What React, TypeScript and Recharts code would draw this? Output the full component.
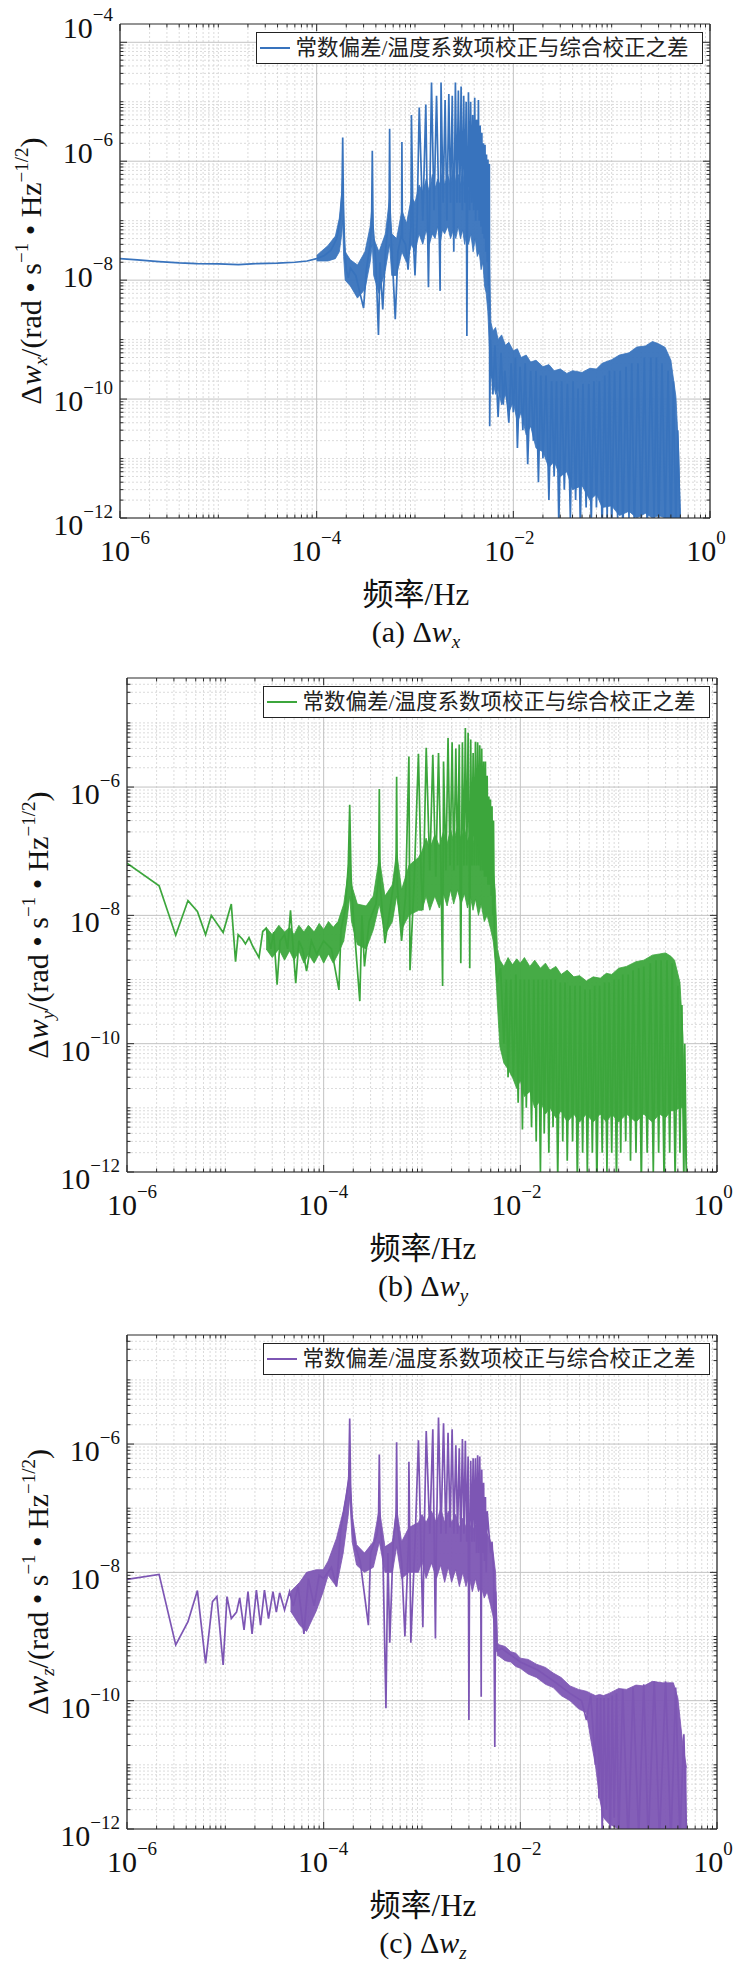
import React from 'react';
import { ComposedChart, Line, Area, XAxis, YAxis, CartesianGrid, ReferenceLine } from 'recharts';

const SERIF = '"Liberation Serif", "Times New Roman", serif';
const CJK = '"Liberation Serif", "Noto Sans CJK SC", serif';
const AXIS = '#2b2b2b';

const legendText = '常数偏差/温度系数项校正与综合校正之差';

const xMajorTicks = [1e-6, 1e-4, 1e-2, 1];
const yMajorTicksA = [1e-12, 1e-10, 1e-8, 1e-6, 1e-4];
const yMajorTicksBC = [1e-12, 1e-10, 1e-8, 1e-6];

// (a) Δw_x — [frequency Hz, amplitude]
const dwxLine: [number, number][] = [
  [1e-6, 2.3e-8], [1.5e-6, 2.2e-8], [2.5e-6, 2.05e-8], [4e-6, 1.95e-8], [6e-6, 1.9e-8], [1e-5, 1.88e-8],
  [1.6e-5, 1.83e-8], [2.5e-5, 1.9e-8], [4e-5, 1.93e-8], [6e-5, 2.0e-8], [8e-5, 2.1e-8], [1e-4, 2.3e-8],
  [1.2e-4, 2.6e-8], [1.4e-4, 3.2e-8], [1.6e-4, 5e-8], [1.75e-4, 1.2e-7], [1.81e-4, 3e-7], [1.84e-4, 2.5e-6],
  [1.87e-4, 2e-7], [1.92e-4, 4e-8], [2.0e-4, 1.5e-8], [2.1e-4, 1.1e-8], [2.2e-4, 1.6e-8], [2.5e-4, 1.2e-8],
  [2.7e-4, 7e-9], [3.0e-4, 3.4e-9], [3.2e-4, 1.5e-8], [3.5e-4, 4e-8], [3.62e-4, 1e-7], [3.68e-4, 1.5e-6],
  [3.74e-4, 8e-8], [4.0e-4, 2e-8], [4.25e-4, 1.2e-9], [4.4e-4, 2e-8], [4.7e-4, 3.2e-9], [5.0e-4, 3e-8],
  [5.45e-4, 1.2e-7], [5.52e-4, 3.5e-6], [5.6e-4, 1e-7], [5.9e-4, 2e-8], [6.3e-4, 2.2e-9], [6.7e-4, 3e-8],
  [7.3e-4, 6e-8], [7.36e-4, 2.1e-6], [7.45e-4, 5e-8], [8.0e-4, 4e-8], [8.5e-4, 1.5e-8], [9.1e-4, 8e-8],
  [9.2e-4, 6e-6], [9.6e-4, 5e-8], [1.0e-3, 1.2e-8], [1.05e-3, 1e-7], [1.104e-3, 8e-6], [1.2e-3, 1e-7],
  [1.288e-3, 9e-6], [1.37e-3, 7.6e-9], [1.472e-3, 2.1e-5], [1.56e-3, 1.5e-7], [1.656e-3, 1.26e-5],
  [1.75e-3, 1.5e-7], [1.8e-3, 6.6e-9], [1.84e-3, 2.1e-5], [1.93e-3, 2e-7], [2.024e-3, 1.07e-5],
  [2.11e-3, 1e-7], [2.208e-3, 1.35e-5], [2.3e-3, 2e-7], [2.392e-3, 1.26e-5], [2.48e-3, 3e-8],
  [2.576e-3, 2.1e-5], [2.67e-3, 2e-7], [2.76e-3, 1.55e-5], [2.85e-3, 2e-7], [2.944e-3, 1.8e-5],
  [3.03e-3, 1.5e-7], [3.128e-3, 1.26e-5], [3.22e-3, 2e-7], [3.312e-3, 1e-5], [3.37e-3, 1.15e-9],
  [3.42e-3, 2e-7], [3.496e-3, 1.45e-5], [3.59e-3, 1.5e-7], [3.68e-3, 1e-5], [3.77e-3, 2e-7],
  [3.864e-3, 6e-6], [3.95e-3, 1.5e-7], [4.048e-3, 1.17e-5], [4.14e-3, 1e-7], [4.232e-3, 5e-6],
  [4.32e-3, 1.5e-7], [4.416e-3, 1.07e-5], [4.5e-3, 1e-7], [4.6e-3, 4e-6], [4.69e-3, 8e-8],
  [4.784e-3, 3e-6], [4.88e-3, 6e-8], [4.968e-3, 2e-6], [5.06e-3, 5e-8], [5.152e-3, 1.9e-6],
  [5.25e-3, 3e-8], [5.336e-3, 1.3e-6], [5.43e-3, 2e-8], [5.52e-3, 1.07e-6], [5.6e-3, 8e-9],
  [5.704e-3, 9e-7], [5.75e-3, 3.5e-11], [5.85e-3, 1e-9], [6.2e-3, 1.2e-10], [6.5e-3, 8e-10], [7e-3, 5e-11],
  [7.5e-3, 6e-10], [7.9e-3, 8e-11], [8.2e-3, 3e-10], [9e-3, 4e-11], [9.5e-3, 4e-10], [1e-2, 6e-11],
  [1.05e-2, 5e-10], [1.1e-2, 1.5e-11], [1.17e-2, 3.5e-10], [1.25e-2, 3e-11], [1.32e-2, 4e-10], [1.4e-2, 8e-12],
  [1.5e-2, 3e-10], [1.6e-2, 2e-11], [1.7e-2, 3e-10], [1.8e-2, 4e-12], [1.9e-2, 2.5e-10], [2e-2, 1e-11],
  [2.15e-2, 2.5e-10], [2.3e-2, 2e-12], [2.45e-2, 2e-10], [2.6e-2, 5e-12], [2.75e-2, 2e-10], [2.9e-2, 8e-13],
  [3.1e-2, 2e-10], [3.3e-2, 3e-12], [3.55e-2, 1.8e-10], [3.8e-2, 1e-12], [4.05e-2, 2e-10], [4.3e-2, 2e-12],
  [4.55e-2, 1.5e-10], [4.8e-2, 7e-13], [5.1e-2, 1.8e-10], [5.5e-2, 1.5e-12], [5.85e-2, 1.8e-10],
  [6.2e-2, 8e-13], [6.6e-2, 2e-10], [7e-2, 1.5e-12], [7.5e-2, 2e-10], [8e-2, 6e-13], [8.5e-2, 2.5e-10],
  [9e-2, 1e-12], [9.5e-2, 3e-10], [0.1, 6e-13], [0.107, 3e-10], [0.115, 1e-12], [0.122, 3e-10],
  [0.13, 5e-13], [0.14, 3.5e-10], [0.15, 1e-12], [0.16, 4e-10], [0.17, 6e-13], [0.185, 4e-10],
  [0.2, 8e-13], [0.215, 5e-10], [0.23, 5e-13], [0.25, 5e-10], [0.27, 9e-13], [0.285, 5e-10],
  [0.3, 5e-13], [0.325, 4e-10], [0.35, 8e-13], [0.375, 3e-10], [0.4, 5e-13], [0.425, 2e-10],
  [0.45, 6e-13], [0.47, 3e-11], [0.5, 5e-13],
];

// dense part of the spectrum: [frequency, lower edge, upper edge]
const dwxBand: [number, number, number][] = [
  [1.0e-4, 2.1e-8, 2.6e-8], [1.3e-4, 2.1e-8, 3.8e-8], [1.55e-4, 2.3e-8, 5.5e-8], [1.7e-4, 3e-8, 1.1e-7],
  [1.8e-4, 6e-8, 3e-7], [1.84e-4, 1e-7, 6e-7], [1.88e-4, 2.5e-8, 1e-7], [1.95e-4, 1e-8, 3e-8],
  [2.2e-4, 8e-9, 2.2e-8], [2.6e-4, 5e-9, 1.8e-8], [3.1e-4, 7e-9, 3e-8], [3.5e-4, 2e-8, 8e-8],
  [3.68e-4, 4e-8, 2e-7], [3.8e-4, 1.2e-8, 5e-8], [4.3e-4, 6e-9, 3e-8], [5.0e-4, 1.5e-8, 6e-8],
  [5.52e-4, 4e-8, 2.5e-7], [5.8e-4, 1.2e-8, 6e-8], [6.5e-4, 1.2e-8, 5e-8], [7.36e-4, 3e-8, 1.5e-7],
  [8.2e-4, 2e-8, 9e-8], [9.2e-4, 4e-8, 2.5e-7], [1.0e-3, 3e-8, 2e-7], [1.1e-3, 6e-8, 4e-7],
  [1.2e-3, 4e-8, 3e-7], [1.3e-3, 7e-8, 5e-7], [1.4e-3, 4e-8, 3e-7], [1.5e-3, 6e-8, 6e-7],
  [1.6e-3, 5e-8, 3.5e-7], [1.7e-3, 8e-8, 5e-7], [1.8e-3, 4e-8, 4e-7], [1.9e-3, 7e-8, 7e-7],
  [2.0e-3, 6e-8, 4e-7], [2.15e-3, 8e-8, 6e-7], [2.3e-3, 5e-8, 4e-7], [2.45e-3, 7e-8, 8e-7],
  [2.6e-3, 5e-8, 4.5e-7], [2.75e-3, 8e-8, 6e-7], [2.9e-3, 5e-8, 4e-7], [3.05e-3, 7e-8, 7e-7],
  [3.2e-3, 4e-8, 3.5e-7], [3.35e-3, 6e-8, 5e-7], [3.5e-3, 4e-8, 3e-7], [3.7e-3, 6e-8, 5e-7],
  [3.9e-3, 3e-8, 3e-7], [4.1e-3, 5e-8, 4e-7], [4.3e-3, 2.5e-8, 2.5e-7], [4.5e-3, 3e-8, 3e-7],
  [4.7e-3, 1.5e-8, 2e-7], [4.9e-3, 2e-8, 2.5e-7], [5.1e-3, 8e-9, 1.5e-7], [5.3e-3, 6e-9, 1.2e-7],
  [5.5e-3, 3e-9, 6e-8], [5.75e-3, 6e-10, 1.5e-8], [5.9e-3, 2.5e-10, 2e-9], [6.2e-3, 2e-10, 1.4e-9],
  [6.6e-3, 1.2e-10, 1.6e-9], [7e-3, 1.5e-10, 1e-9], [7.6e-3, 8e-11, 1.2e-9], [8.3e-3, 1.2e-10, 8e-10],
  [9e-3, 6e-11, 9e-10], [1e-2, 9e-11, 6.5e-10], [1.1e-2, 4e-11, 7e-10], [1.2e-2, 6e-11, 5e-10],
  [1.35e-2, 2.5e-11, 5.5e-10], [1.5e-2, 3.5e-11, 4.2e-10], [1.7e-2, 1.5e-11, 4.5e-10], [2e-2, 1.3e-11, 3.5e-10],
  [2.3e-2, 7e-12, 3.8e-10], [2.6e-2, 9e-12, 3e-10], [3e-2, 5e-12, 3.2e-10], [3.5e-2, 6e-12, 2.7e-10],
  [4e-2, 3e-12, 3e-10], [5e-2, 3.5e-12, 2.8e-10], [6e-2, 2e-12, 3.3e-10], [7e-2, 2.5e-12, 3.2e-10],
  [8e-2, 1.5e-12, 4e-10], [0.1, 1.6e-12, 4.6e-10], [0.12, 1.1e-12, 5.5e-10], [0.15, 1.3e-12, 6e-10],
  [0.18, 1e-12, 7.5e-10], [0.22, 1.2e-12, 7.8e-10], [0.26, 1e-12, 9.3e-10], [0.3, 1.1e-12, 8.5e-10],
  [0.35, 1e-12, 7.4e-10], [0.4, 1e-12, 4.5e-10], [0.45, 1e-12, 1.1e-10], [0.48, 1e-12, 1.3e-11],
  [0.5, 1e-12, 1.1e-12],
];

// (b) Δw_y
const dwyLine: [number, number][] = [
  [1e-6, 6.5e-8], [2.12e-6, 2.9e-8], [3.13e-6, 4.9e-9], [4.17e-6, 1.7e-8], [5.2e-6, 1.15e-8], [6.3e-6, 5e-9],
  [7.2e-6, 1e-8], [9.5e-6, 5.4e-9], [1.15e-5, 1.5e-8], [1.27e-5, 1.9e-9], [1.35e-5, 5e-9], [1.5e-5, 4.2e-9],
  [1.6e-5, 3.6e-9], [1.74e-5, 4.5e-9], [1.9e-5, 3.3e-9], [2.2e-5, 2.2e-9], [2.4e-5, 5.6e-9], [2.6e-5, 6.3e-9],
  [2.9e-5, 3e-9], [3.1e-5, 5.5e-9], [3.36e-5, 8.3e-10], [3.6e-5, 4e-9], [4.0e-5, 5e-9], [4.3e-5, 3e-9],
  [4.6e-5, 1.2e-8], [4.9e-5, 3e-9], [5.2e-5, 8.8e-10], [5.6e-5, 4e-9], [6.1e-5, 3e-9], [6.7e-5, 1.35e-9],
  [7.5e-5, 4e-9], [8.5e-5, 2.5e-9], [1.0e-4, 4e-9], [1.2e-4, 3e-9], [1.43e-4, 6.9e-10], [1.5e-4, 6e-9],
  [1.65e-4, 1.2e-8], [1.78e-4, 6e-8], [1.84e-4, 5.3e-7], [1.9e-4, 4e-8], [2.0e-4, 1e-8], [2.33e-4, 4.6e-10],
  [2.45e-4, 1e-8], [2.6e-4, 1.6e-9], [2.9e-4, 8e-9], [3.4e-4, 1.5e-8], [3.62e-4, 4e-8], [3.68e-4, 9.3e-7],
  [3.75e-4, 3e-8], [4.2e-4, 3.7e-9], [4.8e-4, 1.5e-8], [5.45e-4, 6e-8], [5.52e-4, 1.45e-6], [5.6e-4, 3e-8],
  [6.2e-4, 4e-9], [6.8e-4, 2e-8], [7.36e-4, 3e-6], [7.55e-4, 1.4e-9], [8.3e-4, 3e-8], [9.2e-4, 3.3e-6],
  [9.8e-4, 4e-8], [1.02e-3, 1.2e-8], [1.104e-3, 4.1e-6], [1.2e-3, 5e-8], [1.288e-3, 3.2e-6], [1.38e-3, 4e-8],
  [1.472e-3, 3.4e-6], [1.56e-3, 5e-8], [1.62e-3, 7.9e-10], [1.656e-3, 2.5e-6], [1.75e-3, 5e-8],
  [1.84e-3, 5.8e-6], [1.93e-3, 6e-8], [2.024e-3, 5e-6], [2.11e-3, 5e-8], [2.208e-3, 4e-6], [2.3e-3, 6e-8],
  [2.392e-3, 4.6e-6], [2.48e-3, 1.8e-9], [2.576e-3, 5e-6], [2.67e-3, 6e-8], [2.76e-3, 8.3e-6],
  [2.85e-3, 6e-8], [2.944e-3, 7e-6], [3.03e-3, 5e-8], [3.06e-3, 1.5e-9], [3.128e-3, 5.5e-6],
  [3.22e-3, 6e-8], [3.312e-3, 3.4e-6], [3.4e-3, 6e-8], [3.496e-3, 5.1e-6], [3.59e-3, 6e-8], [3.68e-3, 5e-6],
  [3.77e-3, 6e-8], [3.864e-3, 4.5e-6], [3.95e-3, 5e-8], [4.048e-3, 4e-6], [4.14e-3, 5e-8], [4.232e-3, 2.5e-6],
  [4.32e-3, 4e-8], [4.416e-3, 2.5e-6], [4.5e-3, 4e-8], [4.6e-3, 1.5e-6], [4.69e-3, 3e-8], [4.784e-3, 7.1e-7],
  [4.88e-3, 3e-8], [4.968e-3, 6.4e-7], [5.06e-3, 2e-8], [5.152e-3, 5e-7], [5.25e-3, 1e-8], [5.336e-3, 3e-7],
  [5.45e-3, 5e-9], [5.6e-3, 2e-9], [5.8e-3, 9e-10], [6.3e-3, 1.5e-9], [6.8e-3, 1e-10], [7.2e-3, 1e-9],
  [7.5e-3, 3e-11], [8e-3, 1e-9], [8.5e-3, 3e-11], [9e-3, 1.2e-9], [9.5e-3, 1.2e-11], [1e-2, 1e-9],
  [1.05e-2, 4.6e-12], [1.1e-2, 1e-9], [1.15e-2, 1e-11], [1.22e-2, 1e-9], [1.3e-2, 5e-12], [1.37e-2, 1e-9],
  [1.45e-2, 3e-12], [1.52e-2, 1e-9], [1.6e-2, 1e-12], [1.68e-2, 1e-9], [1.75e-2, 4e-12], [1.85e-2, 1e-9],
  [1.95e-2, 2e-12], [2.05e-2, 1e-9], [2.15e-2, 5e-12], [2.27e-2, 1e-9], [2.4e-2, 8e-13], [2.55e-2, 9e-10],
  [2.7e-2, 3e-12], [2.85e-2, 9e-10], [3.0e-2, 1.5e-12], [3.2e-2, 8e-10], [3.4e-2, 3e-12], [3.6e-2, 8e-10],
  [3.8e-2, 7e-13], [4.05e-2, 8e-10], [4.3e-2, 2e-12], [4.55e-2, 7e-10], [4.8e-2, 1e-12], [5.1e-2, 7e-10],
  [5.4e-2, 2e-12], [5.7e-2, 8e-10], [6e-2, 6e-13], [6.4e-2, 8e-10], [6.8e-2, 2e-12], [7.2e-2, 9e-10],
  [7.6e-2, 1e-12], [8e-2, 9e-10], [8.5e-2, 2e-12], [9e-2, 1e-9], [9.5e-2, 7e-13], [0.1, 1e-9],
  [0.105, 2e-12], [0.11, 1.2e-9], [0.118, 3e-12], [0.125, 1.2e-9], [0.132, 1.5e-12], [0.14, 1.4e-9],
  [0.15, 2e-12], [0.16, 1.5e-9], [0.17, 6e-13], [0.18, 1.6e-9], [0.195, 2e-12], [0.21, 1.8e-9],
  [0.225, 1e-12], [0.24, 2e-9], [0.255, 2e-12], [0.27, 2e-9], [0.29, 6e-13], [0.31, 2e-9], [0.33, 2e-12],
  [0.35, 1.8e-9], [0.375, 8e-13], [0.4, 8e-10], [0.42, 2e-12], [0.44, 4e-10], [0.46, 6e-13], [0.47, 1e-10],
  [0.49, 6e-13],
];

const dwyBand: [number, number, number][] = [
  [2.6e-5, 3e-9, 6.5e-9], [3e-5, 2.2e-9, 5e-9], [3.5e-5, 3e-9, 7e-9], [4e-5, 2e-9, 5.5e-9],
  [4.5e-5, 2.8e-9, 6.5e-9], [5e-5, 2e-9, 5e-9], [5.6e-5, 2.8e-9, 7e-9], [6.3e-5, 1.8e-9, 5.5e-9],
  [7e-5, 2.5e-9, 7e-9], [8e-5, 1.8e-9, 5.5e-9], [9e-5, 2.5e-9, 7.5e-9], [1e-4, 1.8e-9, 6e-9],
  [1.12e-4, 2.5e-9, 8e-9], [1.25e-4, 1.8e-9, 6.5e-9], [1.4e-4, 2.5e-9, 8e-9], [1.6e-4, 4e-9, 1.5e-8],
  [1.75e-4, 1e-8, 4e-8], [1.84e-4, 2e-8, 1.2e-7], [1.92e-4, 8e-9, 3e-8], [2.2e-4, 3.5e-9, 1.5e-8],
  [2.7e-4, 3e-9, 1.4e-8], [3.2e-4, 6e-9, 2e-8], [3.68e-4, 1.5e-8, 8e-8], [4.2e-4, 5e-9, 2e-8],
  [5.0e-4, 8e-9, 3e-8], [5.52e-4, 2e-8, 1e-7], [6.2e-4, 6e-9, 2.5e-8], [7.36e-4, 1e-8, 6e-8],
  [9.2e-4, 1.2e-8, 8e-8], [1.0e-3, 1.2e-8, 1e-7], [1.1e-3, 2e-8, 1.6e-7], [1.2e-3, 1.2e-8, 1.1e-7],
  [1.35e-3, 2e-8, 1.8e-7], [1.5e-3, 1.3e-8, 1.2e-7], [1.65e-3, 2.2e-8, 2e-7], [1.8e-3, 1.4e-8, 1.3e-7],
  [1.95e-3, 2.5e-8, 2.2e-7], [2.1e-3, 1.5e-8, 1.4e-7], [2.3e-3, 2.5e-8, 2.5e-7], [2.5e-3, 1.5e-8, 1.5e-7],
  [2.7e-3, 2.2e-8, 2.3e-7], [2.9e-3, 1.3e-8, 1.4e-7], [3.1e-3, 2e-8, 2e-7], [3.3e-3, 1.2e-8, 1.3e-7],
  [3.5e-3, 1.8e-8, 1.9e-7], [3.75e-3, 1e-8, 1.2e-7], [4e-3, 1.5e-8, 1.6e-7], [4.3e-3, 8e-9, 1e-7],
  [4.6e-3, 1e-8, 1.2e-7], [5e-3, 6e-9, 7e-8], [5.3e-3, 4e-9, 5e-8], [5.55e-3, 2e-9, 2.5e-8],
  [5.85e-3, 4e-10, 3e-9], [6.2e-3, 9e-11, 2e-9], [6.8e-3, 5e-11, 1.6e-9], [7.5e-3, 4e-11, 2.2e-9],
  [8.3e-3, 3e-11, 1.7e-9], [9.2e-3, 2e-11, 2.1e-9], [1e-2, 2.7e-11, 1.8e-9], [1.1e-2, 1.5e-11, 2.2e-9],
  [1.25e-2, 1.8e-11, 1.6e-9], [1.4e-2, 1e-11, 2e-9], [1.6e-2, 1.3e-11, 1.5e-9], [1.8e-2, 8e-12, 1.8e-9],
  [2e-2, 1e-11, 1.4e-9], [2.3e-2, 7e-12, 1.6e-9], [2.6e-2, 9e-12, 1.2e-9], [3e-2, 6e-12, 1.4e-9],
  [3.5e-2, 8e-12, 1.1e-9], [4e-2, 6e-12, 1.15e-9], [4.7e-2, 8e-12, 9.5e-10], [5.5e-2, 6e-12, 1.1e-9],
  [6.5e-2, 8e-12, 1.05e-9], [7.5e-2, 6e-12, 1.25e-9], [8.5e-2, 8e-12, 1.2e-9], [0.1, 6e-12, 1.5e-9],
  [0.12, 8e-12, 1.6e-9], [0.15, 6e-12, 1.9e-9], [0.18, 8e-12, 2e-9], [0.22, 6e-12, 2.4e-9],
  [0.26, 8e-12, 2.5e-9], [0.3, 7e-12, 2.6e-9], [0.34, 9e-12, 2.3e-9], [0.37, 9e-12, 2e-9],
  [0.42, 1e-11, 9e-10], [0.45, 1e-11, 1.3e-10], [0.49, 1e-12, 1.1e-12],
];

// (c) Δw_z
const dwzLine: [number, number][] = [
  [1e-6, 7.8e-9], [2.12e-6, 9.3e-9], [3.13e-6, 7.4e-10], [4.17e-6, 1.7e-9], [5.2e-6, 5.2e-9], [6.3e-6, 3.8e-10],
  [7.4e-6, 3.5e-9], [8.2e-6, 4.2e-9], [9.5e-6, 3.6e-10], [1.04e-5, 4.2e-9], [1.15e-5, 1.9e-9], [1.3e-5, 2.4e-9],
  [1.4e-5, 4e-9], [1.55e-5, 1.27e-9], [1.7e-5, 5e-9], [1.87e-5, 1.1e-9], [2.07e-5, 5.3e-9], [2.28e-5, 1.5e-9],
  [2.5e-5, 5.3e-9], [2.75e-5, 1.9e-9], [3.05e-5, 5e-9], [3.3e-5, 2.4e-9], [3.57e-5, 4.8e-9], [4.0e-5, 2.6e-9],
  [4.5e-5, 5e-9], [4.9e-5, 3e-9], [5.5e-5, 6e-9], [6.3e-5, 1.1e-9], [7e-5, 8e-9], [8e-5, 3e-9], [9e-5, 9e-9],
  [1.0e-4, 8e-9], [1.2e-4, 1.2e-8], [1.35e-4, 6e-9], [1.5e-4, 5e-8], [1.7e-4, 1.5e-7], [1.8e-4, 3e-7],
  [1.84e-4, 2.5e-6], [1.88e-4, 2e-7], [1.95e-4, 6e-8], [2.1e-4, 2.5e-8], [2.35e-4, 1.5e-8], [2.85e-4, 1.5e-9],
  [3.0e-4, 2e-8], [3.5e-4, 4e-8], [3.62e-4, 8e-8], [3.68e-4, 6.9e-7], [3.75e-4, 6e-8], [4.0e-4, 2e-8],
  [4.3e-4, 7.6e-11], [4.5e-4, 2e-8], [4.7e-4, 8e-10], [5.1e-4, 3e-8], [5.45e-4, 8e-8], [5.52e-4, 1.07e-6],
  [5.6e-4, 6e-8], [6.2e-4, 1.5e-8], [6.7e-4, 1e-9], [7.3e-4, 3e-8], [7.36e-4, 5.3e-7], [7.7e-4, 8e-10],
  [8.5e-4, 3e-8], [9.2e-4, 1.15e-6], [1.02e-3, 1.4e-9], [1.05e-3, 3e-8], [1.104e-3, 1.6e-6], [1.2e-3, 4e-8],
  [1.288e-3, 1.7e-6], [1.37e-3, 9.3e-10], [1.4e-3, 3e-8], [1.472e-3, 2.6e-6], [1.56e-3, 4e-8],
  [1.656e-3, 2.1e-6], [1.75e-3, 4e-8], [1.84e-3, 1.5e-6], [1.93e-3, 5e-8], [2.024e-3, 1.7e-6],
  [2.11e-3, 4e-8], [2.208e-3, 9.6e-7], [2.3e-3, 4e-8], [2.392e-3, 8.6e-7], [2.48e-3, 3e-8],
  [2.576e-3, 1.2e-6], [2.67e-3, 4e-8], [2.76e-3, 1.13e-6], [2.85e-3, 3e-8], [2.944e-3, 6.4e-7],
  [3.0e-3, 5e-11], [3.05e-3, 3e-8], [3.128e-3, 5.5e-7], [3.22e-3, 3e-8], [3.312e-3, 6e-7], [3.4e-3, 3e-8],
  [3.496e-3, 6e-7], [3.59e-3, 2e-8], [3.68e-3, 6.7e-7], [3.77e-3, 2e-8], [3.864e-3, 6.4e-7], [3.95e-3, 2e-8],
  [4.0e-3, 1.15e-10], [4.048e-3, 4e-7], [4.14e-3, 2e-8], [4.232e-3, 2.5e-7], [4.32e-3, 1.5e-8],
  [4.416e-3, 1.5e-7], [4.5e-3, 1e-8], [4.6e-3, 9e-8], [4.784e-3, 4.3e-8], [5.0e-3, 2e-8], [5.152e-3, 3e-8],
  [5.35e-3, 1e-8], [5.5e-3, 1.9e-11], [5.6e-3, 5e-9], [5.8e-3, 6e-10], [6.5e-3, 6.5e-10], [1e-2, 4e-10],
  [1.5e-2, 3e-10], [2.2e-2, 2e-10], [3.2e-2, 1.3e-10], [4.2e-2, 1e-10], [4.7e-2, 5e-11], [5.2e-2, 1.2e-10],
  [5.8e-2, 1e-11], [6.05e-2, 1.1e-10], [6.3e-2, 3e-12], [6.55e-2, 1.1e-10], [6.8e-2, 8e-13], [7.1e-2, 1.1e-10],
  [7.5e-2, 2e-12], [7.85e-2, 1.1e-10], [8.2e-2, 6e-13], [8.6e-2, 1.2e-10], [9e-2, 1.5e-12], [9.5e-2, 1.3e-10],
  [0.1, 7e-13], [0.11, 1.5e-10], [0.125, 6e-13], [0.14, 1.6e-10], [0.16, 8e-13], [0.18, 1.8e-10],
  [0.2, 6e-13], [0.23, 2e-10], [0.26, 7e-13], [0.3, 2e-10], [0.34, 6e-13], [0.38, 1.6e-10], [0.42, 7e-13],
  [0.46, 3e-11], [0.49, 8e-13],
];

const dwzBand: [number, number, number][] = [
  [4.6e-5, 2.5e-9, 5e-9], [5.7e-5, 1.5e-9, 7e-9], [6.7e-5, 1.2e-9, 1e-8], [8.4e-5, 2.5e-9, 1.1e-8],
  [9.9e-5, 5e-9, 1.1e-8], [1.11e-4, 9e-9, 1.5e-8], [1.35e-4, 6e-9, 3.4e-8], [1.58e-4, 2e-8, 9e-8],
  [1.78e-4, 8e-8, 2.6e-7], [1.84e-4, 1.5e-7, 4e-7], [1.95e-4, 3e-8, 8e-8], [2.16e-4, 1.3e-8, 2.7e-8],
  [2.6e-4, 1e-8, 2e-8], [3.2e-4, 1.2e-8, 3e-8], [3.68e-4, 3e-8, 1e-7], [4.2e-4, 1e-8, 2.5e-8],
  [5.0e-4, 1e-8, 3e-8], [5.52e-4, 2.5e-8, 1e-7], [6.2e-4, 8e-9, 3e-8], [7.36e-4, 1e-8, 5e-8],
  [9.2e-4, 1e-8, 6e-8], [1.0e-3, 1.5e-8, 8e-8], [1.1e-3, 8e-9, 6e-8], [1.25e-3, 1.4e-8, 9e-8],
  [1.4e-3, 8e-9, 6e-8], [1.55e-3, 1.3e-8, 1e-7], [1.7e-3, 7e-9, 6e-8], [1.85e-3, 1.2e-8, 9e-8],
  [2e-3, 7e-9, 6e-8], [2.2e-3, 1.1e-8, 8e-8], [2.4e-3, 6e-9, 5e-8], [2.6e-3, 1e-8, 7e-8],
  [2.8e-3, 6e-9, 5e-8], [3e-3, 9e-9, 6e-8], [3.25e-3, 5e-9, 4.5e-8], [3.5e-3, 8e-9, 5.5e-8],
  [3.75e-3, 5e-9, 4e-8], [4e-3, 6e-9, 4.5e-8], [4.3e-3, 4e-9, 3.5e-8], [4.6e-3, 5e-9, 4e-8],
  [5e-3, 3e-9, 3e-8], [5.3e-3, 2e-9, 2e-8], [5.6e-3, 1e-9, 1e-8], [5.85e-3, 5e-10, 8e-10],
  [6e-3, 5e-10, 7.5e-10], [7e-3, 4.2e-10, 7e-10], [8e-3, 4e-10, 5.8e-10], [9e-3, 3.4e-10, 5.5e-10],
  [1e-2, 3.2e-10, 4.6e-10], [1.2e-2, 2.6e-10, 4.4e-10], [1.46e-2, 2.3e-10, 3.7e-10], [1.8e-2, 1.8e-10, 3.3e-10],
  [2.16e-2, 1.6e-10, 2.7e-10], [2.6e-2, 1.2e-10, 2.3e-10], [3.2e-2, 1e-10, 1.7e-10], [3.9e-2, 7.5e-11, 1.5e-10],
  [4.7e-2, 6.5e-11, 1.4e-10], [5.2e-2, 2.5e-11, 1.3e-10], [5.8e-2, 1e-11, 1.2e-10], [6.4e-2, 3e-12, 1.25e-10],
  [7e-2, 1.5e-12, 1.2e-10], [8e-2, 1.2e-12, 1.3e-10], [0.1, 1e-12, 1.55e-10], [0.12, 1e-12, 1.5e-10],
  [0.15, 1e-12, 1.75e-10], [0.18, 1e-12, 1.7e-10], [0.22, 1e-12, 2e-10], [0.28, 1e-12, 1.9e-10],
  [0.36, 1e-12, 1.9e-10], [0.4, 1e-12, 1.1e-10], [0.45, 1e-12, 2e-11], [0.49, 1e-12, 9e-12],
];

// log-axis tick positions (1..9 x 10^e), used for minor ticks and dotted grid
const logTicks = (from: number, to: number, max: number) => {
  const out: number[] = [];
  for (let e = from; e <= to; e++) {
    for (let m = 1; m <= 9; m++) {
      const v = m * Math.pow(10, e);
      if (v <= max) out.push(v);
    }
  }
  return out;
};

const isMajor = (v: number, majors: number[]) => majors.some((m) => Math.abs(v / m - 1) < 1e-6);
const expText = (v: number) => String(Math.round(Math.log10(v))).replace('-', '\u2212');

type PanelProps = {
  top: number;
  left: number;
  plotW: number;
  plotH: number;
  yTop: number;
  yMajors: number[];
  labelSlope: number;
  line: [number, number][];
  band: [number, number, number][];
  color: string;
  tag: string;
  sub: string;
};

const CH_W = 750;
const CH_H = 650;
const M_TOP = 24;

const Panel = ({ top, left, plotW, plotH, yTop, yMajors, labelSlope, line, band, color, tag, sub }: PanelProps) => {
  const lineRows = line.map(([f, v]) => ({ f, v }));
  const bandRows = band.map(([f, lo, hi]) => ({ f, band: [lo, hi] }));
  const xTicks = logTicks(-6, 0, 1);
  const yTicks = logTicks(-12, -4, yTop * 0.98);
  const xMinor = xTicks.filter((v) => !isMajor(v, xMajorTicks));
  const yMinor = yTicks.filter((v) => !isMajor(v, yMajors));

  const XTick = (p: any) => {
    const { x, y, payload } = p;
    const v = payload.value;
    const major = isMajor(v, xMajorTicks);
    const len = major ? 7 : 3.5;
    const lx = x + Math.max(-4, 5 - 2.8 * (Math.log10(v) + 6));
    return (
      <g>
        <line x1={x} x2={x} y1={y} y2={y - len} stroke={AXIS} strokeWidth={1} />
        <line x1={x} x2={x} y1={y - plotH} y2={y - plotH + len} stroke={AXIS} strokeWidth={1} />
        {major && (
          <text x={lx} y={y + 43} textAnchor="middle" fontFamily={SERIF} fontSize={30} fill="#111">
            <tspan>10</tspan>
            <tspan dy={-17} fontSize={19}>{expText(v)}</tspan>
          </text>
        )}
      </g>
    );
  };

  const YTick = (p: any) => {
    const { x, y, payload } = p;
    const v = payload.value;
    const major = isMajor(v, yMajors);
    const len = major ? 7 : 3.5;
    const ly = y + 17 - labelSlope * (Math.log10(v) + 12);
    return (
      <g>
        <line x1={x} x2={x + len} y1={y} y2={y} stroke={AXIS} strokeWidth={1} />
        <line x1={x + plotW} x2={x + plotW - len} y1={y} y2={y} stroke={AXIS} strokeWidth={1} />
        {major && (
          <text x={x - 7} y={ly} textAnchor="end" fontFamily={SERIF} fontSize={30} fill="#111">
            <tspan>10</tspan>
            <tspan dy={-17} fontSize={19}>{expText(v)}</tspan>
          </text>
        )}
      </g>
    );
  };

  const cx = left + plotW / 2 + 1;
  const bottom = M_TOP + plotH;
  const labX = left - 79;
  const labY = M_TOP + plotH / 2;

  return (
    <div style={{ position: 'absolute', left: 0, top, width: CH_W, height: CH_H }}>
      <ComposedChart
        width={CH_W}
        height={CH_H}
        margin={{ top: M_TOP, left: left - 1, right: CH_W - left - plotW, bottom: CH_H - M_TOP - plotH - 1 }}
      >
        <CartesianGrid
          horizontalValues={yMinor}
          verticalValues={xMinor}
          stroke="#d2d2d2"
          strokeWidth={0.8}
          strokeDasharray="2 2"
        />
        <CartesianGrid horizontalValues={yMajors} verticalValues={xMajorTicks} stroke="#c2c2c2" strokeWidth={1} />
        <XAxis
          dataKey="f"
          type="number"
          scale="log"
          domain={[1e-6, 1]}
          allowDataOverflow
          ticks={xTicks}
          interval={0}
          height={1}
          tickSize={0}
          tickMargin={0}
          tickLine={false}
          axisLine={{ stroke: AXIS, strokeWidth: 1.2 }}
          tick={XTick}
        />
        <YAxis
          type="number"
          scale="log"
          domain={[1e-12, yTop]}
          allowDataOverflow
          ticks={yTicks}
          interval={0}
          width={1}
          tickSize={0}
          tickMargin={0}
          tickLine={false}
          axisLine={{ stroke: AXIS, strokeWidth: 1.2 }}
          tick={YTick}
        />
        <Area
          data={bandRows}
          dataKey="band"
          type="linear"
          stroke={color}
          strokeWidth={0.8}
          fill={color}
          fillOpacity={0.95}
          isAnimationActive={false}
        />
        <Line
          data={lineRows}
          dataKey="v"
          type="linear"
          stroke={color}
          strokeWidth={1.7}
          dot={false}
          activeDot={false}
          isAnimationActive={false}
        />
        <ReferenceLine y={yTop} stroke={AXIS} strokeWidth={1.2} ifOverflow="visible" />
        <ReferenceLine x={1} stroke={AXIS} strokeWidth={1.2} ifOverflow="visible" />
      </ComposedChart>

      <svg
        width={CH_W}
        height={CH_H}
        style={{ position: 'absolute', left: 0, top: 0, pointerEvents: 'none', overflow: 'visible' }}
      >
        <text
          transform={`rotate(-90 ${labX} ${labY})`}
          x={labX}
          y={labY}
          textAnchor="middle"
          fontFamily={SERIF}
          fontSize={30}
          fill="#111"
        >
          <tspan>Δ</tspan>
          <tspan fontStyle="italic">w</tspan>
          <tspan fontStyle="italic" fontSize={19} dy={6}>{sub}</tspan>
          <tspan dy={-6}>/(rad • s</tspan>
          <tspan fontSize={19} dy={-13}>−1</tspan>
          <tspan dy={13}> • Hz</tspan>
          <tspan fontSize={19} dy={-13}>−1/2</tspan>
          <tspan dy={13}>)</tspan>
        </text>
        <text x={cx} y={bottom + 87} textAnchor="middle" fontFamily={CJK} fontSize={31} fill="#111">
          频率/Hz
        </text>
        <text x={cx} y={bottom + 124} textAnchor="middle" fontFamily={SERIF} fontSize={30} fill="#111">
          <tspan>({tag}) Δ</tspan>
          <tspan fontStyle="italic">w</tspan>
          <tspan fontStyle="italic" fontSize={19} dy={6}>{sub}</tspan>
        </text>
      </svg>

      <div
        style={{
          position: 'absolute',
          left: left + plotW - 7.5 - 447,
          top: M_TOP + 8,
          width: 447,
          height: 32,
          boxSizing: 'border-box',
          border: '1.3px solid #222',
          background: '#fff',
          display: 'flex',
          alignItems: 'center',
        }}
      >
        <div style={{ marginLeft: 3, width: 30, height: 2, background: color, flex: 'none' }} />
        <span style={{ marginLeft: 6, fontSize: 21.5, fontFamily: CJK, whiteSpace: 'nowrap', color: '#222', lineHeight: '30px' }}>
          {legendText}
        </span>
      </div>
    </div>
  );
};

export default function App() {
  return (
    <div style={{ position: 'absolute', left: 0, top: 0, width: 750, height: 1973, background: '#fff' }}>
      <Panel top={0} left={120} plotW={590} plotH={494} yTop={2.03e-4} yMajors={yMajorTicksA} labelSlope={2.6}
        line={dwxLine} band={dwxBand} color="#3873BD" tag="a" sub="x" />
      <Panel top={654} left={127} plotW={590} plotH={494} yTop={5.01e-5} yMajors={yMajorTicksBC} labelSlope={0}
        line={dwyLine} band={dwyBand} color="#3CA63C" tag="b" sub="y" />
      <Panel top={1311} left={127} plotW={590} plotH={494} yTop={5.01e-5} yMajors={yMajorTicksBC} labelSlope={0}
        line={dwzLine} band={dwzBand} color="#7D56B4" tag="c" sub="z" />
    </div>
  );
}
